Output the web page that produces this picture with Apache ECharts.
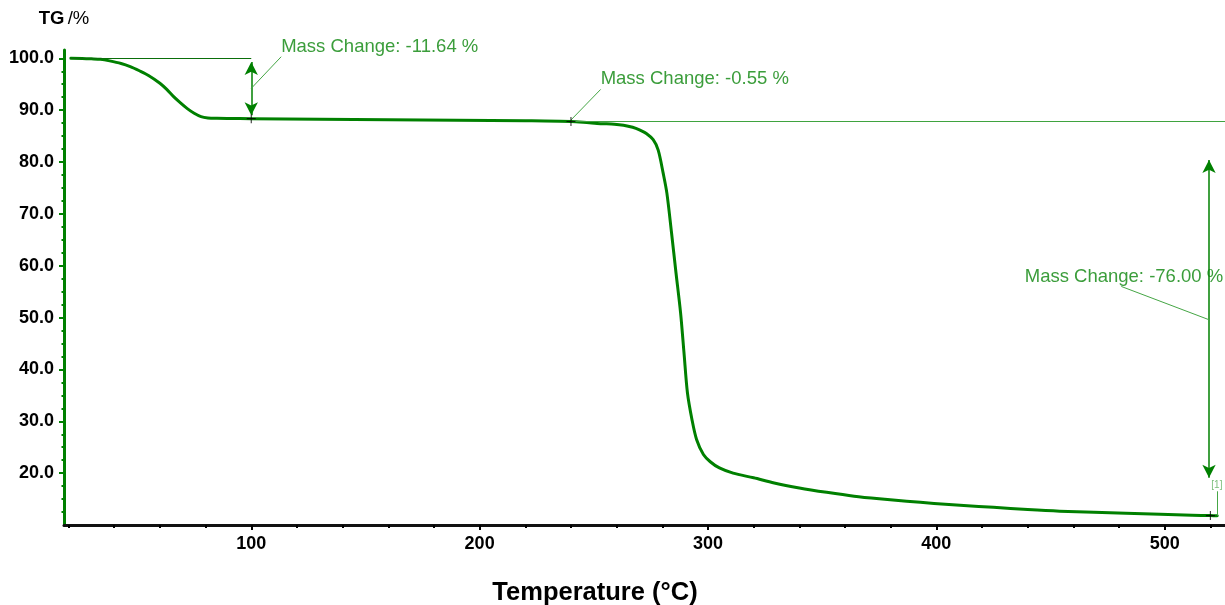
<!DOCTYPE html>
<html>
<head>
<meta charset="utf-8">
<title>TG</title>
<script src="https://cdn.jsdelivr.net/npm/echarts@6/dist/echarts.min.js"></script>
<style>
  html, body { margin: 0; padding: 0; background: #ffffff; }
  #chart { width: 1225px; height: 605px; }
</style>
</head>
<body>
<div id="chart"></div>
<script>
// Thermogravimetric curve: temperature (°C) vs. remaining mass (%)
const temperature = [21, 26, 30, 34, 38, 43, 47, 51, 55, 60, 63, 66, 69, 72, 75, 78, 81, 85, 90, 100,
  130, 160, 190, 220, 240, 248, 253, 259, 263, 267, 270, 273, 276, 278.2, 280.4, 282, 284, 286, 288, 289.5,
  291, 293, 295, 298, 301, 305, 311, 320, 329, 340, 352, 364, 375, 387, 399, 412, 425, 440, 454, 469,
  483, 498, 512, 520, 523];
const mass = [100.0, 99.97, 99.9, 99.8, 99.5, 99.0, 98.4, 97.6, 96.7, 95.2, 94.0, 92.6, 91.4, 90.3, 89.4, 88.75, 88.5, 88.42, 88.39, 88.36,
  88.25, 88.15, 88.05, 87.95, 87.81, 87.55, 87.4, 87.3, 87.1, 86.7, 86.2, 85.5, 84.3, 82.3, 77.8, 74.0, 66.5, 58.6, 50.9, 43.2,
  35.5, 30.3, 26.5, 23.6, 22.2, 21.0, 20.0, 19.1, 18.1, 17.15, 16.3, 15.55, 15.05, 14.6, 14.15, 13.75, 13.4, 12.97, 12.65, 12.45,
  12.25, 12.06, 11.87, 11.81, 11.79];

// Evaluated mass-loss steps
const stepTemps = [100, 240, 520];
const stepMass = [88.36, 87.81, 11.81];
const massChanges = [-11.64, -0.55, -76.00];

// Axis ticks
const xMajorTicks = [100, 200, 300, 400, 500];
const xMinorTicks = [20, 40, 60, 80, 100, 120, 140, 160, 180, 200, 220, 240, 260, 280, 300, 320, 340, 360, 380, 400, 420, 440, 460, 480, 500, 520];
const yMajorTicks = [20, 30, 40, 50, 60, 70, 80, 90, 100];
const yMinorTicks = [12.5, 15, 17.5, 20, 22.5, 25, 27.5, 30, 32.5, 35, 37.5, 40, 42.5, 45, 47.5, 50, 52.5, 55, 57.5, 60,
  62.5, 65, 67.5, 70, 72.5, 75, 77.5, 80, 82.5, 85, 87.5, 90, 92.5, 95, 97.5, 100];

const X_MIN = 18, X_MAX = 526.4, Y_MIN = 10, Y_MAX = 101.6;
const FONT = '"Liberation Sans", Arial, Helvetica, sans-serif';
const GREEN = '#008000';
const TEXT_GREEN = '#0a840a';
const LEADER = '#45a645';

const curve = temperature.map((t, i) => [t, mass[i]]);
const labelText = massChanges.map(v => 'Mass Change: ' + v.toFixed(2) + ' %');

const arrowStyle = { color: GREEN, width: 1.5, type: 'solid' };
const thinStyle = (c) => ({ color: c, width: 1, type: 'solid' });

const chart = echarts.init(document.getElementById('chart'), null, { renderer: 'canvas' });

chart.setOption({
  animation: false,
  backgroundColor: '#ffffff',
  grid: { left: 64, right: 0, top: 50, bottom: 80, containLabel: false, outerBoundsMode: 'none' },
  xAxis: [
    {
      type: 'value', min: X_MIN, max: X_MAX,
      name: 'Temperature (°C)', nameLocation: 'middle', nameGap: 55,
      nameTextStyle: {
        fontFamily: FONT, fontSize: 25.5, fontWeight: 'bold', color: '#000',
        padding: [0, 99, 0, 0]
      },
      axisLine: { show: true, onZero: false, lineStyle: { color: '#111', width: 3 } },
      axisTick: { show: true, inside: false, length: 5, lineStyle: { color: '#000', width: 2 }, customValues: xMajorTicks },
      axisLabel: { show: true, margin: 10, fontFamily: FONT, fontSize: 18, fontWeight: 'bold', color: '#000', customValues: xMajorTicks },
      splitLine: { show: false }
    },
    {
      type: 'value', min: X_MIN, max: X_MAX, position: 'bottom',
      axisLine: { show: false, onZero: false },
      axisTick: { show: true, inside: false, length: 3, lineStyle: { color: '#000', width: 2 }, customValues: xMinorTicks },
      axisLabel: { show: false },
      splitLine: { show: false }
    }
  ],
  yAxis: [
    {
      type: 'value', min: Y_MIN, max: Y_MAX,
      name: '{b|TG} {n|/%}', nameLocation: 'end', nameGap: 22,
      nameTextStyle: {
        align: 'center',
        rich: {
          b: { fontFamily: FONT, fontSize: 18.5, fontWeight: 'bold', color: '#000' },
          n: { fontFamily: FONT, fontSize: 18.5, fontWeight: 'normal', color: '#000' }
        }
      },
      axisLine: { show: true, onZero: false, lineStyle: { color: GREEN, width: 3 } },
      axisTick: { show: true, inside: false, length: 5, lineStyle: { color: GREEN, width: 2 }, customValues: yMajorTicks },
      axisLabel: {
        show: true, margin: 10, fontFamily: FONT, fontSize: 18, fontWeight: 'bold', color: '#000',
        customValues: yMajorTicks, formatter: v => Number(v).toFixed(1)
      },
      splitLine: { show: false }
    },
    {
      type: 'value', min: Y_MIN, max: Y_MAX, position: 'left',
      axisLine: { show: false, onZero: false },
      axisTick: { show: true, inside: false, length: 2.5, lineStyle: { color: GREEN, width: 2 }, customValues: yMinorTicks },
      axisLabel: { show: false },
      splitLine: { show: false }
    }
  ],
  series: [
    {
      name: 'TG',
      type: 'line',
      xAxisIndex: 0, yAxisIndex: 0,
      data: curve,
      showSymbol: false,
      smooth: 0.3,
      lineStyle: { color: GREEN, width: 3, join: 'round', cap: 'round' },
      z: 3,
      markLine: {
        silent: true,
        animation: false,
        symbol: 'none',
        label: { show: false },
        data: [
          // baseline references of the first and last step
          [{ coord: [temperature[0], mass[0]], lineStyle: thinStyle('#0a6e0a') }, { coord: [stepTemps[0], mass[0]] }],
          [{ coord: [stepTemps[1], stepMass[1]], lineStyle: thinStyle('#3fa33f') }, { coord: [X_MAX, stepMass[1]] }],
          // double arrows showing the step heights
          [{ coord: [stepTemps[0], 99.3], symbol: 'arrow', symbolSize: [10, 13], lineStyle: arrowStyle },
           { coord: [stepTemps[0], 89.0], symbol: 'arrow', symbolSize: [10, 13] }],
          [{ coord: [519.4, 80.4], symbol: 'arrow', symbolSize: [10, 13], lineStyle: arrowStyle },
           { coord: [519.4, 19.1], symbol: 'arrow', symbolSize: [10, 13] }],
          // leader lines from annotations to their steps
          [{ coord: [stepTemps[0], 94.2], lineStyle: thinStyle(LEADER) }, { coord: [113.1, 100.3] }],
          [{ coord: [stepTemps[1], 88.1], lineStyle: thinStyle(LEADER) }, { coord: [253.0, 94.0] }],
          [{ coord: [481.0, 56.0], lineStyle: thinStyle(LEADER) }, { coord: [519.3, 49.6] }],
          [{ coord: [523.1, 16.5], lineStyle: thinStyle(LEADER) }, { coord: [523.1, 11.8] }]
        ]
      }
    },
    {
      name: 'Step markers',
      type: 'scatter',
      xAxisIndex: 0, yAxisIndex: 0,
      data: stepTemps.map((t, i) => [t, stepMass[i]]),
      symbol: 'path://M0,4.4H10V5.6H0ZM4.4,0H5.6V10H4.4Z',
      symbolSize: 9,
      itemStyle: { color: '#000' },
      silent: true,
      clip: false,
      z: 5
    },
    {
      name: 'Annotations',
      type: 'scatter',
      xAxisIndex: 0, yAxisIndex: 0,
      data: [
        [113.1, 102.2, labelText[0]],
        [253.0, 96.0, labelText[1]],
        [438.7, 57.9, labelText[2]],
        { value: [520.4, 17.6, '[1]'], label: { fontSize: 10, color: '#5aae5a' } }
      ],
      symbolSize: 0,
      clip: false,
      silent: true,
      z: 6,
      label: {
        show: true,
        position: 'right',
        distance: 0,
        formatter: p => p.value[2],
        fontFamily: FONT,
        fontSize: 18.5,
        color: TEXT_GREEN
      },
      labelLayout: { hideOverlap: false },
      emphasis: { disabled: true }
    }
  ]
});
</script>
</body>
</html>
